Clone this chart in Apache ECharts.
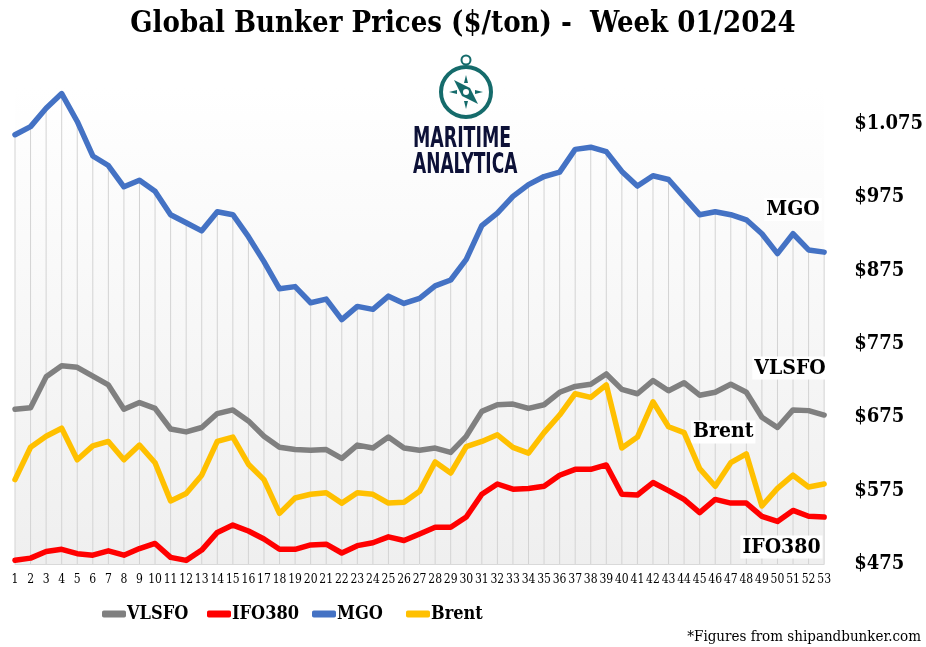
<!DOCTYPE html>
<html>
<head>
<meta charset="utf-8">
<title>Global Bunker Prices</title>
<script src="https://cdn.jsdelivr.net/npm/echarts@6/dist/echarts.min.js"></script>
<style>
    html, body { margin: 0; padding: 0; background: #fff; }
    #main { width: 926px; height: 647px; }
</style>
</head>
<body>
<div id="main"></div>
<script>
// 数据: 第1-53周
var weeks = [];
for (var w = 1; w <= 53; w++) { weeks.push(String(w)); }

var mgo = [1060, 1071, 1096, 1116, 1078, 1031, 1018, 989, 998, 983,
    951, 940, 929, 955, 951, 921, 887, 850, 853, 831,
    836, 808, 826, 822, 840, 830, 837, 854, 862, 890,
    936, 953, 976, 992, 1003, 1009, 1040, 1043, 1037, 1010,
    990, 1004, 999, 975, 951, 955, 951, 944, 925, 898,
    925, 903, 900];

var vlsfo = [686, 688, 730, 745, 743, 731, 719, 686, 695, 687,
    659, 655, 661, 680, 685, 670, 649, 634, 631, 630,
    631, 619, 637, 633, 648, 633, 630, 633, 627, 649,
    683, 692, 693, 687, 692, 709, 717, 720, 734, 713,
    707, 725, 711, 722, 705, 709, 720, 709, 675, 661,
    685, 684, 678];

var ifo380 = [480, 483, 492, 495, 489, 487, 493, 487, 496, 503,
    484, 480, 494, 518, 528, 520, 509, 495, 495, 501,
    502, 490, 500, 504, 512, 507, 516, 525, 525, 539,
    570, 584, 577, 578, 581, 596, 604, 604, 610, 570,
    569, 586, 575, 563, 545, 563, 558, 558, 540, 533,
    548, 540, 539];

var brent = [590, 634, 649, 660, 617, 636, 642, 617, 637, 613,
    561, 571, 596, 642, 648, 611, 590, 544, 565, 570,
    572, 558, 572, 570, 558, 559, 574, 614, 599, 635,
    642, 651, 634, 626, 654, 678, 707, 702, 719, 633,
    648, 696, 662, 654, 605, 581, 613, 625, 554, 578,
    596, 580, 584];

var yTicks = [475, 575, 675, 775, 875, 975, 1075];

// 字体
var slab = '"DejaVu Serif Condensed", "DejaVu Serif", serif';
var logoFont = '"DejaVu Sans Condensed", "DejaVu Sans", sans-serif';

var chart = echarts.init(document.getElementById('main'));

function lineSeries(name, data, color, tag) {
    var s = {
        name: name,
        type: 'line',
        data: data,
        symbol: 'none',
        z: 5,
        lineStyle: { width: 5.5, color: color, join: 'round', cap: 'round' },
        itemStyle: { color: color }
    };
    if (tag) {
        s.markPoint = {
            symbol: 'rect',
            symbolSize: 1,
            silent: true,
            itemStyle: { color: 'rgba(0,0,0,0)' },
            data: [{ coord: [tag[0], tag[1]], value: name }],
            label: {
                show: true,
                position: 'inside',
                offset: [tag[2] || 0, 0],
                formatter: name,
                color: '#000',
                fontFamily: slab,
                fontWeight: 'bold',
                fontSize: 21,
                backgroundColor: '#fff',
                padding: [1, 2]
            }
        };
    }
    return s;
}

// 图例: 每项单独定位
var legendNames = ['VLSFO', 'IFO380', 'MGO', 'Brent'];
var legendLeft = [102, 207, 312, 406];
var legends = legendNames.map(function (n, i) {
    return {
        data: [n],
        left: legendLeft[i],
        top: 605,
        padding: 0,
        itemWidth: 24,
        itemHeight: 7,
        icon: 'roundRect',
        selectedMode: false,
        textStyle: { fontFamily: slab, fontWeight: 'bold', fontSize: 18, color: '#000', padding: [0, 0, 0, -4] }
    };
});

var option = {
    animation: false,
    title: {
        text: 'Global Bunker Prices ($/ton) -  Week 01/2024',
        left: 'center',
        top: 5,
        textStyle: { fontFamily: slab, fontWeight: 'bold', fontSize: 29, color: '#000' }
    },
    legend: legends,
    grid: {
        left: 15,
        right: 98,
        top: 87,
        bottom: 83,
        show: true,
        borderWidth: 0,
        backgroundColor: new echarts.graphic.LinearGradient(0, 0, 0, 1, [
            { offset: 0, color: '#ffffff' },
            { offset: 1, color: '#efefef' }
        ])
    },
    xAxis: {
        type: 'category',
        data: weeks,
        boundaryGap: false,
        axisLine: { lineStyle: { color: '#d9d9d9', width: 1 } },
        axisTick: { show: false },
        axisLabel: { interval: 0, color: '#000', fontFamily: slab, fontSize: 12, margin: 10 },
        splitLine: { show: false }
    },
    yAxis: {
        type: 'value',
        position: 'right',
        min: 475,
        max: 1125,
        interval: 25,
        axisLine: { show: false },
        axisTick: { show: false },
        splitLine: { show: false },
        axisLabel: {
            color: '#000',
            fontFamily: slab,
            fontWeight: 'bold',
            fontSize: 20,
            margin: 30,
            formatter: function (v) {
                if (yTicks.indexOf(v) < 0) { return ''; }
                return '$' + (v >= 1000 ? '1.' + String(v - 1000).padStart(3, '0') : v);
            }
        }
    },
    series: [
        {
            name: 'drop',
            type: 'bar',
            data: mgo,
            barWidth: 1,
            silent: true,
            z: 1,
            itemStyle: { color: '#d3d3d3' }
        },
        lineSeries('VLSFO', vlsfo, '#808080', ['51', 742, -3]),
        lineSeries('IFO380', ifo380, '#ff0000', ['50', 498, 4]),
        lineSeries('MGO', mgo, '#4472c4', ['51', 958, 0]),
        lineSeries('Brent', brent, '#ffc000', ['46', 655, 8])
    ],
    graphic: [
        // logo
        { type: 'circle', shape: { cx: 466, cy: 92, r: 25 }, style: { fill: 'none', stroke: '#156b6b', lineWidth: 4 } },
        { type: 'circle', shape: { cx: 466, cy: 60, r: 4.5 }, style: { fill: 'none', stroke: '#156b6b', lineWidth: 2 } },
        { type: 'polygon', shape: { points: [[454, 80], [470, 88], [478, 104], [462, 96]] }, style: { fill: '#156b6b' } },
        { type: 'circle', shape: { cx: 466, cy: 92, r: 3 }, style: { fill: '#fff' } },
        { type: 'polygon', shape: { points: [[466, 75], [468, 83], [464, 83]] }, style: { fill: '#156b6b' } },
        { type: 'polygon', shape: { points: [[483, 92], [475, 94], [475, 90]] }, style: { fill: '#156b6b' } },
        { type: 'polygon', shape: { points: [[466, 109], [464, 101], [468, 101]] }, style: { fill: '#156b6b' } },
        { type: 'polygon', shape: { points: [[449, 92], [457, 90], [457, 94]] }, style: { fill: '#156b6b' } },
        {
            type: 'text', x: 413, y: 126, scaleX: 0.69, z: 10,
            style: { text: 'MARITIME', fill: '#0d1137', font: 'bold 28px ' + logoFont }
        },
        {
            type: 'text', x: 413, y: 152, scaleX: 0.675, z: 10,
            style: { text: 'ANALYTICA', fill: '#0d1137', font: 'bold 28px ' + logoFont }
        },
        {
            type: 'text', right: 5, top: 630,
            style: { text: '*Figures from shipandbunker.com', fill: '#000', font: '15px ' + slab }
        }
    ]
};

chart.setOption(option);
</script>
</body>
</html>
